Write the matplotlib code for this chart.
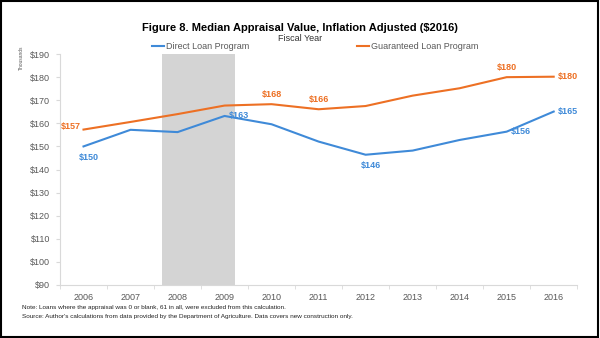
import matplotlib
matplotlib.use("Agg")
import matplotlib.pyplot as plt
from matplotlib.patches import Rectangle

plt.rcParams["font.family"] = ["Liberation Sans Narrow", "Liberation Sans", "DejaVu Sans"]

# ── Data ─────────────────────────────────────────────
years = ["2006", "2007", "2008", "2009", "2010", "2011",
         "2012", "2013", "2014", "2015", "2016"]
direct = [150, 157.2, 156.2, 163.2, 159.6, 152.1, 146.4, 148.2, 152.8, 156.4, 165.1]
guaranteed = [157.3, 160.6, 164.0, 167.7, 168.3, 166.1, 167.5, 172.0, 175.2, 180.0, 180.2]
recession = (1.68, 3.23)  # shaded band, in category units
y_ticks = list(range(90, 191, 10))

# which points get a label, and where (index: side)
direct_labels = {0: "below", 3: "right", 6: "below", 9: "right", 10: "right"}
guar_labels = {0: "left", 4: "above", 5: "above", 9: "above", 10: "right"}

BLUE = "#3F8AD8"
ORANGE = "#ED7024"
GREY_TXT = "#595959"

fig = plt.figure(figsize=(6, 3.38), dpi=100)
ax = fig.add_axes([0.1, 0.157, 0.862, 0.683])

x = list(range(len(years)))
ax.add_patch(Rectangle((recession[0], 90), recession[1] - recession[0], 100,
                       color="#D4D4D4", zorder=0, linewidth=0))
ax.plot(x, direct, color=BLUE, linewidth=1.5, label="Direct Loan Program", zorder=3)
ax.plot(x, guaranteed, color=ORANGE, linewidth=1.5, label="Guaranteed Loan Program", zorder=3)


def put_labels(vals, spots, color):
    offsets = {"below": (4, -8, "center", "center"),
               "above": (0, 7, "center", "center"),
               "left": (-2, 2, "right", "center"),
               "right": (3, 0, "left", "center")}
    for i, side in spots.items():
        dx, dy, ha, va = offsets[side]
        ax.annotate(f"${round(vals[i]):d}", (i, vals[i]), xytext=(dx, dy),
                    textcoords="offset points", ha=ha, va=va, color=color,
                    fontsize=6.5, fontweight="bold", zorder=4)


put_labels(direct, direct_labels, BLUE)
put_labels(guaranteed, guar_labels, ORANGE)

ax.set_xlim(-0.5, len(years) - 0.5)
ax.set_ylim(90, 190)
ax.set_xticks(x)
ax.set_xticklabels(years)
ax.set_xticks([i + 0.5 for i in range(-1, len(years))], minor=True)
ax.set_yticks(y_ticks)
ax.set_yticklabels([f"${v}" for v in y_ticks])
ax.tick_params(axis="x", which="major", length=0, labelsize=6.5, colors=GREY_TXT, pad=6)
ax.tick_params(axis="x", which="minor", length=3, color="#D9D9D9")
ax.tick_params(axis="y", length=3, color="#D9D9D9", labelsize=6.5, colors=GREY_TXT, pad=4)
for s in ["top", "right"]:
    ax.spines[s].set_visible(False)
for s in ["left", "bottom"]:
    ax.spines[s].set_color("#D9D9D9")
    ax.spines[s].set_linewidth(0.8)

fig.text(0.5, 0.917, "Figure 8. Median Appraisal Value, Inflation Adjusted ($2016)",
         ha="center", va="center", fontsize=8, fontweight="bold", color="black")
fig.text(0.5, 0.885, "Fiscal Year", ha="center", va="center", fontsize=6.5, color="#333333")
fig.text(0.035, 0.83, "Thousands", rotation=90, ha="center", va="center",
         fontsize=3.5, color=GREY_TXT)

leg = fig.legend(loc="center", bbox_to_anchor=(0.525, 0.861), ncol=2, frameon=False,
                 fontsize=6.5, handlelength=1.3, handletextpad=0.2, columnspacing=12)
for t in leg.get_texts():
    t.set_color(GREY_TXT)

fig.text(0.037, 0.089, "Note: Loans where the appraisal was 0 or blank, 61 in all, were excluded from this calculation.",
         fontsize=4.6, color="#222222", va="center")
fig.text(0.037, 0.065, "Source: Author's calculations from data provided by the Department of Agriculture. Data covers new construction only.",
         fontsize=4.6, color="#222222", va="center")

fig.patches.append(Rectangle((0.002, 0.003), 0.995, 0.993, transform=fig.transFigure,
                             fill=False, edgecolor="black", linewidth=1.5))

fig.savefig("out.png", dpi=100)
